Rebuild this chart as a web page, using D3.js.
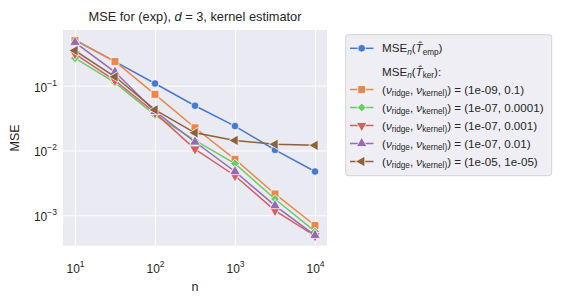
<!DOCTYPE html>
<html>
<head>
<meta charset="utf-8">
<script src="https://cdn.jsdelivr.net/npm/d3@7"></script>
<style>
  body { margin: 0; background: #fff; }
  svg text { font-family: "Liberation Sans", Arial, sans-serif; fill: #262626; }
</style>
</head>
<body>
<div id="chart"></div>
<script>
// 数据
const nValues = [10, 31.62, 100, 316.2, 1000, 3162, 10000];
const mseEmp = [0.51, 0.235, 0.108, 0.049, 0.0238, 0.0102, 0.00473];
const mseKer1 = [0.50, 0.236, 0.0735, 0.0224, 0.0073, 0.00213, 0.000695];
const mseKer2 = [0.265, 0.111, 0.035, 0.0143, 0.00628, 0.00178, 0.000562];
const mseKer3 = [0.31, 0.12, 0.038, 0.0105, 0.00407, 0.00118, 0.00048];
const mseKer4 = [0.467, 0.162, 0.040, 0.0135, 0.00473, 0.00141, 0.00049];
const mseKer5 = [0.348, 0.137, 0.0423, 0.0187, 0.0143, 0.01245, 0.0120];
const kerParams = [["1e-09", "0.1"], ["1e-07", "0.0001"], ["1e-07", "0.001"], ["1e-07", "0.01"], ["1e-05", "1e-05"]];
const xTicks = [1e1, 1e2, 1e3, 1e4];
const yTicks = [1e-1, 1e-2, 1e-3];

const width = 562, height = 303;
const plot = { left: 63, right: 327, top: 30, bottom: 245.7 };

const series = [
    { values: mseEmp, color: "#4878d0", marker: "circle" },
    { values: mseKer1, color: "#ee854a", marker: "square" },
    { values: mseKer2, color: "#6acc64", marker: "diamond" },
    { values: mseKer3, color: "#d65f5f", marker: "down" },
    { values: mseKer4, color: "#956cb4", marker: "up" },
    { values: mseKer5, color: "#8c613c", marker: "left" }
];

const svg = d3.select("#chart").append("svg")
    .attr("width", width).attr("height", height);

// 对数坐标，两端各留 5% 边距（与 matplotlib 一致）
const xl = d3.extent(nValues).map(Math.log10);
const xm = (xl[1] - xl[0]) * 0.05;
const x = d3.scaleLog()
    .domain([Math.pow(10, xl[0] - xm), Math.pow(10, xl[1] + xm)])
    .range([plot.left, plot.right]);

const yl = d3.extent(series.flatMap(s => s.values)).map(Math.log10);
const ym = (yl[1] - yl[0]) * 0.05;
const y = d3.scaleLog()
    .domain([Math.pow(10, yl[0] - ym), Math.pow(10, yl[1] + ym)])
    .range([plot.bottom, plot.top]);

// 背景与网格
svg.append("rect")
    .attr("x", plot.left).attr("y", plot.top)
    .attr("width", plot.right - plot.left).attr("height", plot.bottom - plot.top)
    .attr("fill", "#eaeaf2");

const gx = svg.append("g").attr("transform", `translate(0,${plot.bottom})`)
    .call(d3.axisBottom(x).tickValues(xTicks).tickSize(-(plot.bottom - plot.top)).tickFormat(""));
const gy = svg.append("g").attr("transform", `translate(${plot.left},0)`)
    .call(d3.axisLeft(y).tickValues(yTicks).tickSize(-(plot.right - plot.left)).tickFormat(""));
[gx, gy].forEach(g => {
    g.select(".domain").remove();
    g.selectAll(".tick line").attr("stroke", "#fff").attr("stroke-width", 1);
});

function powLabel(sel, v) {
    const e = Math.round(Math.log10(v));
    sel.append("tspan").text("10");
    sel.append("tspan").attr("dy", -6).attr("font-size", 8.5)
        .text(e < 0 ? "\u2212" + (-e) : String(e));
}

gx.selectAll(".tick").append("text")
    .attr("y", 27).attr("text-anchor", "middle").attr("font-size", 12)
    .attr("fill", "#262626")
    .each(function(d) { powLabel(d3.select(this), d); });

gy.selectAll(".tick").append("text")
    .attr("x", -6).attr("y", 5.5).attr("text-anchor", "end").attr("font-size", 12)
    .attr("fill", "#262626")
    .each(function(d) { powLabel(d3.select(this), d); });

// 标题和轴标签
const title = svg.append("text")
    .attr("x", (plot.left + plot.right) / 2).attr("y", 20.5)
    .attr("text-anchor", "middle").attr("font-size", 12.8);
title.append("tspan").text("MSE for (exp), ");
title.append("tspan").attr("font-style", "italic").text("d");
title.append("tspan").text(" = 3, kernel estimator");

svg.append("text")
    .attr("x", (plot.left + plot.right) / 2).attr("y", 291)
    .attr("text-anchor", "middle").attr("font-size", 12.5).text("n");

svg.append("text")
    .attr("transform", `translate(19,${(plot.top + plot.bottom) / 2}) rotate(-90)`)
    .attr("text-anchor", "middle").attr("font-size", 12.5).text("MSE");

// 标记形状
function markerPath(type) {
    const s = {
        circle: [d3.symbolCircle, 46, 0],
        square: [d3.symbolSquare, 62, 0],
        diamond: [d3.symbolSquare, 40, 45],
        down: [d3.symbolTriangle, 50, 180],
        up: [d3.symbolTriangle, 50, 0],
        left: [d3.symbolTriangle, 50, -90]
    }[type];
    return { d: d3.symbol().type(s[0]).size(s[1])(), rot: s[2] };
}

const line = d3.line().x((d, i) => x(nValues[i])).y(d => y(d));

const dataGroup = svg.append("g");
series.forEach(s => {
    const g = dataGroup.append("g");
    g.append("path")
        .attr("d", line(s.values))
        .attr("fill", "none").attr("stroke", s.color).attr("stroke-width", 1.5);
    const m = markerPath(s.marker);
    g.selectAll("path.pt").data(s.values).enter().append("path")
        .attr("class", "pt")
        .attr("d", m.d)
        .attr("transform", (d, i) => `translate(${x(nValues[i])},${y(d)}) rotate(${m.rot})`)
        .attr("fill", s.color).attr("stroke", "#fff").attr("stroke-width", 0.75);
});

// 图例
const legend = svg.append("g");
legend.append("rect")
    .attr("x", 345.7).attr("y", 34.7).attr("width", 206).attr("height", 141)
    .attr("rx", 2.5).attr("fill", "#eeeef4").attr("stroke", "#cccccc").attr("stroke-width", 0.8);

const rowY = [48.3, 71.7, 89.5, 107.5, 125.5, 143.5, 161.5];
const textX = 382;

function addHandle(yy, s) {
    legend.append("line")
        .attr("x1", 350).attr("x2", 373.5).attr("y1", yy).attr("y2", yy)
        .attr("stroke", s.color).attr("stroke-width", 1.5);
    const m = markerPath(s.marker);
    legend.append("path").attr("d", m.d)
        .attr("transform", `translate(361.7,${yy}) rotate(${m.rot})`)
        .attr("fill", s.color).attr("stroke", "#fff").attr("stroke-width", 0.75);
}

function mseText(yy, sub) {
    const t = legend.append("text").attr("x", textX).attr("y", yy + 4).attr("font-size", 11.6);
    t.append("tspan").text("MSE");
    t.append("tspan").attr("font-style", "italic").attr("font-size", 8.2).attr("dy", 2.5).text("n");
    t.append("tspan").attr("dy", -2.5).text("(");
    t.append("tspan").attr("font-style", "italic").text("T\u0302");
    t.append("tspan").attr("font-size", 8.2).attr("dy", 2.5).text(sub);
    t.append("tspan").attr("dy", -2.5).text(")");
    return t;
}

addHandle(rowY[0], series[0]);
mseText(rowY[0], "emp");
mseText(rowY[1], "ker").append("tspan").text(":");

kerParams.forEach((p, i) => {
    const yy = rowY[i + 2];
    addHandle(yy, series[i + 1]);
    const t = legend.append("text").attr("x", textX).attr("y", yy + 4).attr("font-size", 11.6);
    t.append("tspan").text("(");
    t.append("tspan").attr("font-style", "italic").text("\u03bd");
    t.append("tspan").attr("font-size", 8.2).attr("dy", 2.5).text("ridge");
    t.append("tspan").attr("dy", -2.5).text(", ");
    t.append("tspan").attr("font-style", "italic").text("\u03bd");
    t.append("tspan").attr("font-size", 8.2).attr("dy", 2.5).text("kernel)");
    t.append("tspan").attr("dy", -2.5).text(`) = (${p[0]}, ${p[1]})`);
});
</script>
</body>
</html>
